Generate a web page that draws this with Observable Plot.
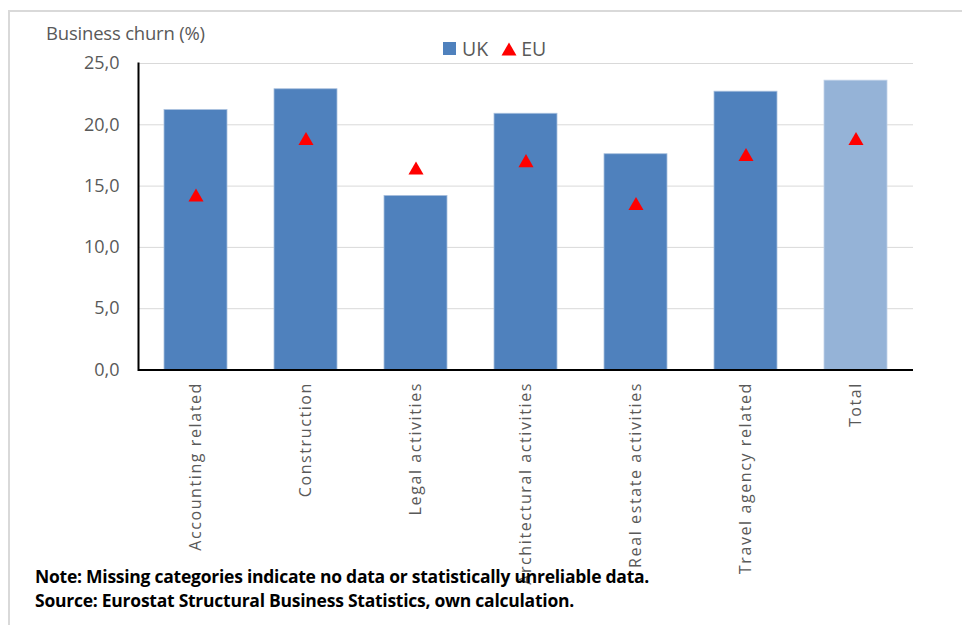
<!DOCTYPE html>
<html>
<head>
<meta charset="utf-8">
<script src="https://cdn.jsdelivr.net/npm/d3@7"></script>
<script src="https://cdn.jsdelivr.net/npm/@observablehq/plot@0.6"></script>
<style>
  html, body { margin: 0; padding: 0; background: #fff; }
  #wrap { position: relative; width: 962px; height: 625px; overflow: hidden; font-family: "Open Sans", sans-serif; }
  #frame { position: absolute; left: 8px; top: 10px; width: 960px; height: 620px; border-left: 2px solid #d9d9d9; border-top: 2px solid #d9d9d9; }
  #chart { position: absolute; left: 0; top: 0; }
  #chart g[aria-label="x-axis tick label"] text { letter-spacing: 1.6px; }
  #ylabel { position: absolute; left: 46px; top: 20px; font-size: 18.5px; color: #595959; letter-spacing: -0.2px; }
  #legend { position: absolute; left: 443px; top: 35px; font-size: 19.5px; color: #595959; display: flex; align-items: center; }
  #legend .sw { width: 13px; height: 13px; background: #4f81bd; margin-right: 6px; }
  #legend svg { margin-left: 13px; margin-right: 4px; }
  #notes { position: absolute; left: 35px; top: 564px; font-size: 17.5px; font-weight: bold; color: #000; line-height: 24px; font-family: "Open Sans", sans-serif; letter-spacing: -0.25px; }
</style>
</head>
<body>
<div id="wrap">
  <div id="frame"></div>
  <div id="chart"></div>
  <div id="ylabel">Business churn (%)</div>
  <div id="legend"><div class="sw"></div><span>UK</span><svg width="16" height="14" viewBox="0 0 16 14"><polygon points="8,0.5 15.5,13.5 0.5,13.5" fill="#ff0000"/></svg><span>EU</span></div>
  <div id="notes">Note: Missing categories indicate no data or statistically unreliable data.<br>Source: Eurostat Structural Business Statistics, own calculation.</div>
</div>
<script>
const categories = ["Accounting related", "Construction", "Legal activities", "Architectural activities", "Real estate activities", "Travel agency related", "Total"];
const ukValues = [21.2, 22.9, 14.2, 20.9, 17.6, 22.7, 23.6];
const euValues = [14.1, 18.7, 16.3, 16.9, 13.4, 17.4, 18.7];
const yTicks = [0, 5, 10, 15, 20, 25];

const data = categories.map((c, i) => ({cat: c, uk: ukValues[i], eu: euValues[i]}));
const fmt = d => d3.format(".1f")(d).replace(".", ",");

const chart = Plot.plot({
  width: 962,
  height: 625,
  marginTop: 63,
  marginBottom: 255.5,
  marginLeft: 138,
  marginRight: 49,
  style: {fontFamily: "'Open Sans', sans-serif", color: "#595959", background: "transparent"},
  x: {domain: categories, paddingInner: 0.43, paddingOuter: 0.215, label: null},
  y: {domain: [0, 25], label: null},
  marks: [
    Plot.gridY(yTicks.filter(d => d > 0), {stroke: "#d9d9d9", strokeOpacity: 1, strokeWidth: 1}),
    Plot.barY(data, {x: "cat", y: "uk", filter: d => d.cat !== "Total", fill: "#4f81bd", stroke: "#a9c0de", strokeWidth: 0.8}),
    Plot.barY(data, {x: "cat", y: "uk", filter: d => d.cat === "Total", fill: "#95b3d7", stroke: "#c0d2e8", strokeWidth: 0.8}),
    Plot.dot(data, {x: "cat", y: "eu", symbol: "triangle", r: 5.6, fill: "#ff0000", stroke: "none"}),
    Plot.ruleY([0], {stroke: "#000", strokeWidth: 2}),
    Plot.frame({anchor: "left", stroke: "#000", strokeWidth: 2}),
    Plot.axisY({ticks: yTicks, tickFormat: fmt, tickSize: 0, tickPadding: 19, fontSize: 18, label: null}),
    Plot.axisX({tickSize: 0, tickRotate: -90, tickPadding: 12, fontSize: 16, label: null})
  ]
});
document.getElementById("chart").appendChild(chart);
</script>
</body>
</html>
